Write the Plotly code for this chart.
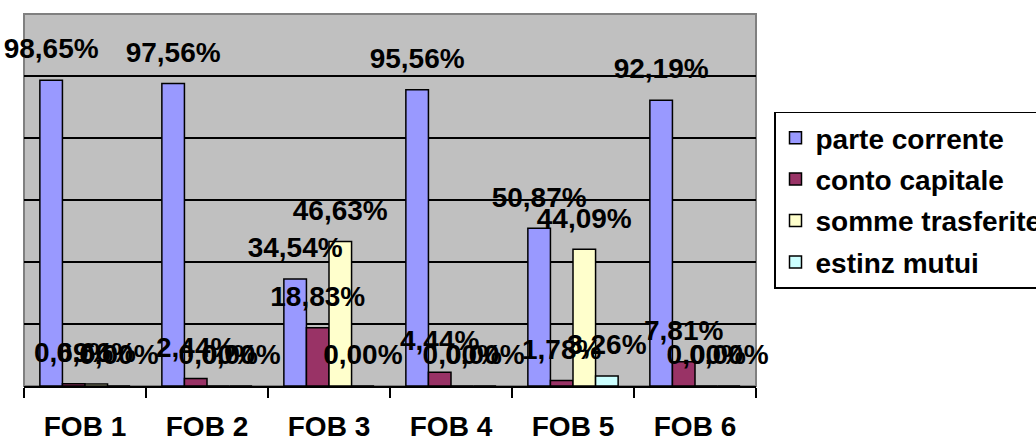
import plotly.graph_objects as go

categories = ["FOB 1", "FOB 2", "FOB 3", "FOB 4", "FOB 5", "FOB 6"]
series_names = ["parte corrente", "conto capitale", "somme trasferite", "estinz mutui"]
parte_corrente = [98.65, 97.56, 34.54, 95.56, 50.87, 92.19]
conto_capitale = [0.69, 2.44, 18.83, 4.44, 1.78, 7.81]
somme_trasferite = [0.66, 0.00, 46.63, 0.00, 44.09, 0.00]
estinz_mutui = [0.00, 0.00, 0.00, 0.00, 3.26, 0.00]
colors = ["#9999FF", "#993366", "#FFFFCC", "#CCFFFF"]

FONT = "Arial, Liberation Sans, sans-serif"
FS = 28
all_series = [parte_corrente, conto_capitale, somme_trasferite, estinz_mutui]

fig = go.Figure()
for name, vals, col in zip(series_names, all_series, colors):
    fig.add_trace(go.Bar(
        x=categories, y=vals, name=name, legendgroup=name,
        marker=dict(color=col, line=dict(color="black", width=1.5)),
        hoverinfo="skip",
    ))
for name, vals in zip(series_names, all_series):
    fig.add_trace(go.Scatter(
        x=categories, y=vals, mode="markers+text",
        text=[f"{v:.2f}%".replace(".", ",") for v in vals],
        textposition="top center",
        textfont=dict(family=FONT, size=FS, color="black", weight="bold"),
        marker=dict(size=22, opacity=0),
        showlegend=False, cliponaxis=False, hoverinfo="skip",
    ))

fig.update_layout(
    width=1036, height=439,
    margin=dict(l=24, r=280, t=14, b=53, autoexpand=False),
    paper_bgcolor="white", plot_bgcolor="#C0C0C0",
    barmode="group", bargap=0.26, bargroupgap=0,
    scattermode="group", scattergap=0.26,
    font=dict(family=FONT, size=FS, color="black", weight="bold"),
    legend=dict(
        x=1.0246, xanchor="left", y=0.5, yanchor="middle",
        bgcolor="white", bordercolor="black", borderwidth=1.5,
        font=dict(family=FONT, size=FS, color="black", weight="bold"),
        traceorder="grouped", tracegroupgap=2, itemwidth=30,
    ),
    shapes=[dict(type="rect", xref="paper", yref="paper", x0=0, y0=0, x1=1, y1=1,
                 line=dict(color="#808080", width=2), layer="below")],
)
fig.update_xaxes(
    showline=True, linecolor="black", linewidth=1.5,
    ticks="outside", tickson="boundaries", ticklen=10, tickwidth=1.5, tickcolor="black",
    ticklabelstandoff=15,
    tickfont=dict(family=FONT, size=FS, color="black", weight="bold"),
    showgrid=False,
)
fig.update_yaxes(
    range=[0, 120], dtick=20, showticklabels=False,
    showgrid=True, gridcolor="black", gridwidth=1.5, zeroline=False,
)
fig.write_html("out.html", config={"displayModeBar": False},
               post_script="document.body.style.margin='0';document.body.style.overflow='hidden';")
